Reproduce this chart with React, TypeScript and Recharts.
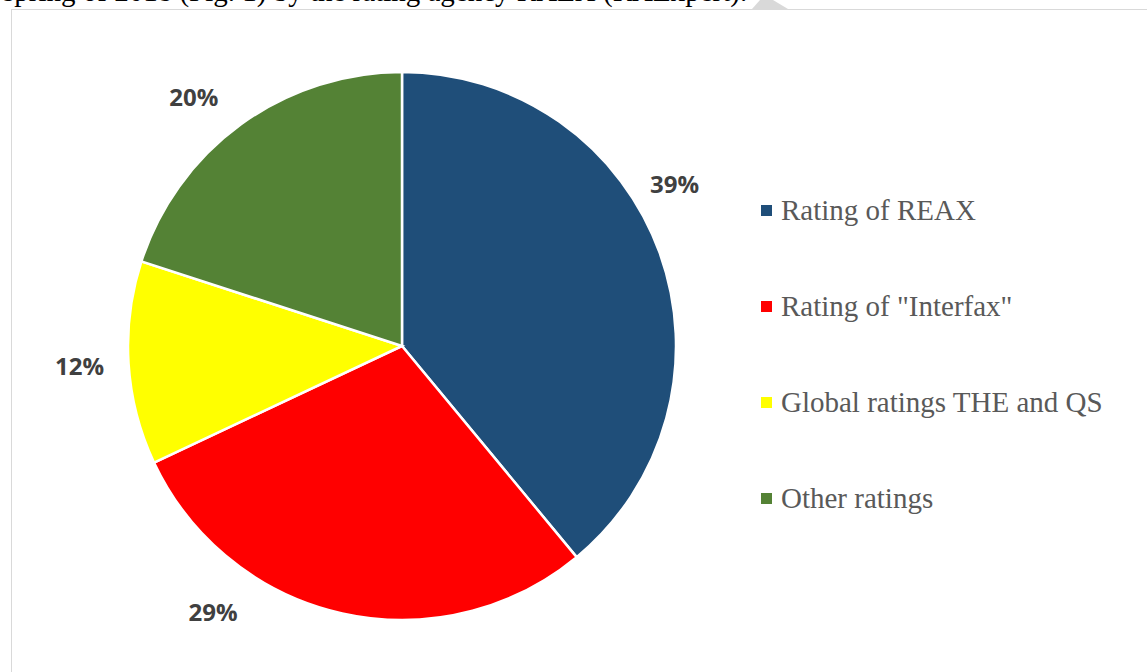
import React from "react";
import { PieChart, Pie, Cell } from "recharts";

// Share of rating citations (percent)
const CATEGORIES = ["Rating of REAX", 'Rating of "Interfax"', "Global ratings THE and QS", "Other ratings"];
const SHARES = [39, 29, 12, 20];
const COLORS = ["#1f4e79", "#ff0000", "#ffff00", "#548235"];

// Excel "best fit" label placement: small clockwise nudge (deg) and radius per slice
const LABEL_NUDGE = [-10.9, 22.7, 0, -4];
const LABEL_RADIUS = [317, 327, 323, 324];

const data = CATEGORIES.map((name, i) => ({ name, value: SHARES[i] }));

const RADIAN = Math.PI / 180;

function renderLabel(props: any) {
  const { cx, cy, midAngle, index, value } = props;
  const angle = midAngle - LABEL_NUDGE[index];
  const r = LABEL_RADIUS[index];
  const x = cx + r * Math.cos(-angle * RADIAN);
  const y = cy + r * Math.sin(-angle * RADIAN);
  return (
    <text
      x={x}
      y={y - 1}
      textAnchor="middle"
      dominantBaseline="central"
      fill="#404040"
      style={{ fontFamily: "'Open Sans', sans-serif", fontWeight: 700, fontSize: 24 }}
    >
      {`${value}%`}
    </text>
  );
}

function LegendList() {
  return (
    <div>
      {CATEGORIES.map((name, i) => (
        <div key={name} style={{ height: 96, display: "flex", alignItems: "center" }}>
          <span style={{ width: 11, height: 11, background: COLORS[i], marginRight: 9, flex: "none" }} />
          <span
            style={{
              fontFamily: "'Liberation Serif', 'Times New Roman', serif",
              fontSize: 29,
              lineHeight: "29px",
              color: "#595959",
              whiteSpace: "nowrap",
            }}
          >
            {name}
          </span>
        </div>
      ))}
    </div>
  );
}

export default function App() {
  return (
    <div
      style={{
        position: "fixed",
        left: 0,
        top: 0,
        width: 1147,
        height: 672,
        overflow: "hidden",
        background: "#fff",
      }}
    >
      {/* tail of the paragraph above the figure */}
      <div
        style={{
          position: "absolute",
          left: 3,
          top: -23,
          fontFamily: "'Liberation Serif', 'Times New Roman', serif",
          fontSize: 29,
          lineHeight: "29px",
          color: "#000",
          whiteSpace: "nowrap",
        }}
      >
        spring of 2018 (Fig. 1) by the rating agency RAEX (RAExpert).
      </div>
      <svg style={{ position: "absolute", left: 0, top: 0 }} width={1147} height={12}>
        <polygon points="752,9 760,0 773,0 788,9" fill="#d9d9d9" />
      </svg>

      <div
        style={{
          position: "absolute",
          left: 11,
          top: 9,
          width: 1160,
          height: 680,
          border: "1px solid #d9d9d9",
          background: "#fff",
        }}
      >
        <PieChart width={1136} height={662} margin={{ top: 0, right: 0, bottom: 0, left: 0 }}>
          <Pie
            data={data}
            dataKey="value"
            nameKey="name"
            cx={390}
            cy={336}
            outerRadius={274}
            startAngle={90}
            endAngle={-270}
            stroke="#ffffff"
            strokeWidth={2.5}
            label={renderLabel}
            labelLine={false}
            isAnimationActive={false}
          >
            {data.map((d, i) => (
              <Cell key={d.name} fill={COLORS[i]} />
            ))}
          </Pie>
        </PieChart>
        <div style={{ position: "absolute", left: 749, top: 152 }}>
          <LegendList />
        </div>
      </div>
    </div>
  );
}
